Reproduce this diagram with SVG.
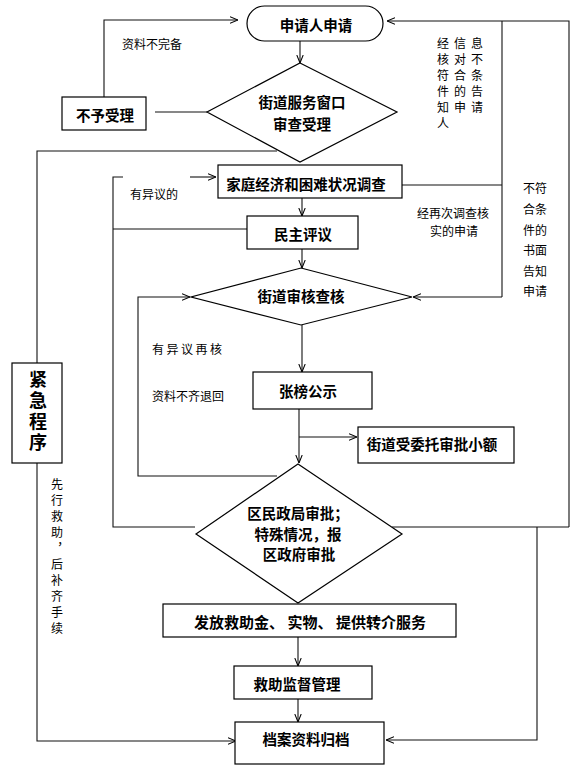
<svg xmlns="http://www.w3.org/2000/svg" width="585" height="776" viewBox="0 0 585 776">
<style>
.box{fill:#fff;stroke:#000;stroke-width:1.2}
.ln{fill:none;stroke:#111;stroke-width:1.1}
.t{font-family:"Noto Sans CJK SC","Liberation Sans",sans-serif;font-weight:bold;font-size:14.5px;fill:#000;text-anchor:middle;dominant-baseline:central}
.lb{font-family:"Noto Sans CJK SC","Liberation Sans",sans-serif;font-size:12px;fill:#000;dominant-baseline:central}
.vt{font-family:"Noto Sans CJK SC","Liberation Sans",sans-serif;fill:#000;writing-mode:vertical-rl;text-orientation:upright;dominant-baseline:central}
</style>
<defs>
<marker id="arr" viewBox="0 0 10 10" refX="10" refY="5" markerWidth="8" markerHeight="8" orient="auto" markerUnits="userSpaceOnUse">
<path d="M0,1 L10,5 L0,9" fill="none" stroke="#000" stroke-width="1.3"/>
</marker>
</defs>
<rect width="585" height="776" fill="#fff"/>

<g id="connectors">
<line class="ln" x1="300" y1="41" x2="300" y2="63" marker-end="url(#arr)"/>
<line class="ln" x1="207" y1="112" x2="155" y2="112"/>
<polyline class="ln" points="104,97 104,20 238,20" marker-end="url(#arr)"/>
<polyline class="ln" points="569,527 569,21 387,21" marker-end="url(#arr)"/>
<line class="ln" x1="502" y1="21" x2="502" y2="297"/>
<line class="ln" x1="402" y1="185" x2="502" y2="185"/>
<line class="ln" x1="502" y1="297" x2="413" y2="297" marker-end="url(#arr)"/>
<line class="ln" x1="392" y1="527" x2="569" y2="527"/>
<polyline class="ln" points="537,527 537,740 386,740" marker-end="url(#arr)"/>
<polyline class="ln" points="277,151 37,151 37,741 236,741" marker-end="url(#arr)"/>
<polyline class="ln" points="123,177 113,177 113,527 195,527"/>
<line class="ln" x1="190" y1="177" x2="216" y2="177" marker-end="url(#arr)"/>
<line class="ln" x1="113" y1="229" x2="247" y2="229"/>
<polyline class="ln" points="277,476 138,476 138,297 190,297" marker-end="url(#arr)"/>
<line class="ln" x1="302" y1="198" x2="302" y2="216" marker-end="url(#arr)"/>
<line class="ln" x1="302" y1="249" x2="302" y2="268" marker-end="url(#arr)"/>
<line class="ln" x1="302" y1="325" x2="302" y2="372" marker-end="url(#arr)"/>
<line class="ln" x1="299" y1="409" x2="299" y2="463" marker-end="url(#arr)"/>
<line class="ln" x1="299" y1="437" x2="357" y2="437" marker-end="url(#arr)"/>
<line class="ln" x1="298" y1="637" x2="298" y2="666" marker-end="url(#arr)"/>
<line class="ln" x1="298" y1="699" x2="298" y2="722" marker-end="url(#arr)"/>
</g>

<g id="n-apply">
<rect class="box" x="247" y="6" width="136" height="35" rx="17.5" ry="17.5"/>
<text class="t" x="316" y="24">申请人申请</text>
</g>
<g id="n-window">
<polygon class="box" points="300,63 397,112 300,162 207,112"/>
<text class="t" x="302" y="101">街道服务窗口</text>
<text class="t" x="302" y="123">审查受理</text>
</g>
<g id="n-reject">
<rect class="box" x="62" y="97" width="84" height="33"/>
<text class="t" x="105" y="114">不予受理</text>
</g>
<g id="n-survey">
<rect class="box" x="218" y="165" width="184" height="33"/>
<text class="t" x="306" y="183">家庭经济和困难状况调查</text>
</g>
<g id="n-review">
<rect class="box" x="247" y="216" width="111" height="33"/>
<text class="t" x="303" y="233">民主评议</text>
</g>
<g id="n-street">
<polygon class="box" points="301,268 412,297 301,325 191,297"/>
<text class="t" x="301" y="295">街道审核查核</text>
</g>
<g id="n-publish">
<rect class="box" x="253" y="372" width="119" height="37"/>
<text class="t" x="308" y="390">张榜公示</text>
</g>
<g id="n-small">
<rect class="box" x="358" y="427" width="156" height="36"/>
<text class="t" x="432" y="443">街道受委托审批小额</text>
</g>
<g id="n-district">
<polygon class="box" points="298,464 402,534 298,603 196,534"/>
<text class="t" x="298" y="512">区民政局审批；</text>
<text class="t" x="298" y="533">特殊情况，报</text>
<text class="t" x="299" y="553">区政府审批</text>
</g>
<g id="n-issue">
<rect class="box" x="163" y="604" width="293" height="33"/>
<text class="t" x="310" y="621" style="font-size:15px">发放救助金、 实物、 提供转介服务</text>
</g>
<g id="n-supervise">
<rect class="box" x="234" y="666" width="138" height="33"/>
<text class="t" x="297" y="683">救助监督管理</text>
</g>
<g id="n-archive">
<rect class="box" x="235" y="722" width="149" height="42"/>
<text class="t" x="306" y="738">档案资料归档</text>
</g>
<g id="n-emergency">
<rect class="box" x="12" y="363" width="50" height="100"/>
<text class="vt" x="38" y="370" style="font-size:18px;font-weight:bold;letter-spacing:3px">紧急程序</text>
</g>

<g id="labels">
<text class="lb" x="122" y="43">资料不完备</text>
<text class="lb" x="437" y="42" style="letter-spacing:5px">经信息</text>
<text class="lb" x="437" y="58" style="letter-spacing:5px">核对不</text>
<text class="lb" x="437" y="74" style="letter-spacing:5px">符合条</text>
<text class="lb" x="437" y="90" style="letter-spacing:5px">件的告</text>
<text class="lb" x="437" y="106" style="letter-spacing:5px">知申请</text>
<text class="lb" x="437" y="122" style="letter-spacing:5px">人</text>
<text class="lb" x="523" y="187">不符</text>
<text class="lb" x="523" y="208">合条</text>
<text class="lb" x="523" y="229">件的</text>
<text class="lb" x="523" y="249">书面</text>
<text class="lb" x="523" y="270">告知</text>
<text class="lb" x="523" y="290">申请</text>
<text class="lb" x="417" y="212">经再次调查核</text>
<text class="lb" x="430" y="230">实的申请</text>
<text class="lb" x="130" y="193">有异议的</text>
<text class="lb" x="152" y="348" style="letter-spacing:2.5px">有异议再核</text>
<text class="lb" x="152" y="395">资料不齐退回</text>
<text class="vt" x="57" y="478" style="font-size:12px;letter-spacing:4px">先行救助，后补齐手续</text>
</g>
</svg>
